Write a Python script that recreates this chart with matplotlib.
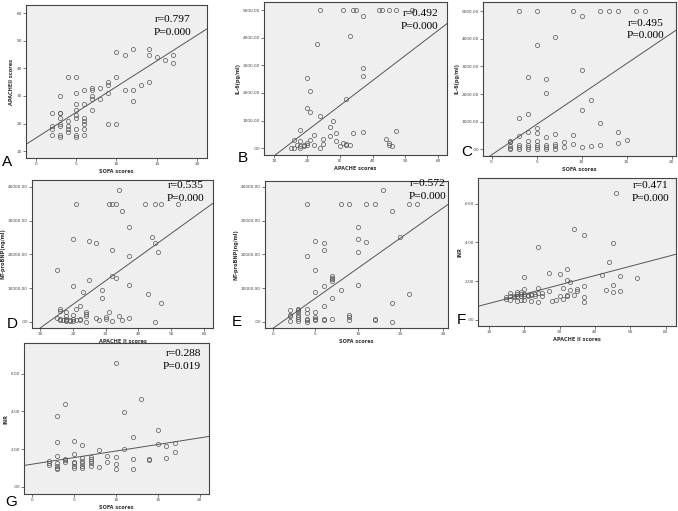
import matplotlib
matplotlib.use('Agg')
import matplotlib.pyplot as plt
from matplotlib.ticker import FuncFormatter

# ---- data ----
# A: SOFA vs APACHE II
a_sofa = [2, 2, 2, 2, 3, 3, 3, 3, 3, 3, 3, 3, 4, 4, 4, 4, 4, 5, 5, 5, 5, 5, 5, 5, 5, 5,
          6, 6, 6, 6, 6, 6, 6, 7, 7, 7, 7, 7, 8, 8, 9, 9, 9, 9, 10, 10, 10, 11, 11,
          12, 12, 12, 13, 14, 14, 14, 15, 16, 17, 17]
a_apache = [24, 19, 18, 16, 30, 24, 24, 22, 20, 19, 16, 15, 37, 21, 19, 18, 17, 37, 31, 27, 25, 23, 22, 18, 16, 15,
            32, 27, 22, 21, 20, 18, 16, 33, 32, 30, 29, 25, 33, 29, 35, 34, 31, 20, 46, 37, 20, 45, 32,
            47, 32, 28, 34, 47, 45, 35, 44, 43, 45, 42]

# B: APACHE vs IL-6
b_apache = [24, 31, 34, 35, 42, 43, 45, 47, 52,
            37, 33, 23, 37, 37, 20, 21, 32, 20, 21, 24, 28, 27, 18, 29, 34, 37, 47, 22, 27,
            25, 21, 16, 18, 29, 20, 31, 44, 45, 45, 46, 32, 32, 33, 30, 15, 16, 17, 18, 18,
            19, 19, 20, 22, 24, 25]
b_il6 = [5000, 5000, 5000, 5000, 5000, 5000, 5000, 5000, 5000,
         4800, 4050, 3770, 2890, 2610, 2550, 2060, 1780, 1445, 1310, 1155, 985, 770, 660, 555, 530, 600, 615, 480, 430,
         325, 300, 300, 240, 240, 190, 190, 325, 190, 120, 72, 157, 108, 96, 60, 12, 12, 96, 60, 12,
         120, 72, 120, 96, 12, 157]

# C: SOFA vs IL-6
c_sofa = [3, 5, 9, 12, 13, 14, 16, 17,
          10, 7, 5, 10, 4, 6, 6, 11, 10, 4, 3, 12,
          2, 2, 2, 2, 2, 3, 3, 3, 3, 4, 4, 4, 4, 4, 5, 5, 5, 5, 5, 5,
          6, 6, 6, 6, 7, 7, 7, 7, 8, 8, 9, 9, 10, 11, 12, 14, 14, 15]
c_il6 = [5000, 5000, 5000, 5000, 5000, 5000, 5000, 5000,
         4820, 4050, 3780, 2880, 2610, 2550, 2050, 1790, 1430, 1295, 1140, 970,
         310, 250, 130, 60, 20, 480, 150, 90, 30, 635, 310, 150, 90, 25, 790, 600, 310, 150, 90, 25,
         440, 150, 90, 25, 560, 190, 125, 25, 250, 100, 525, 210, 90, 125, 160, 625, 225, 325]

# D: APACHE II vs NT-proBNP
d_apache = [34, 21, 31, 32, 33, 42, 45, 47, 52,
            35, 37, 44, 45, 20, 25, 27, 46, 32, 37, 15,
            32, 33, 25, 37, 20, 23, 29, 29, 43, 47,
            15, 16, 16, 16, 16, 17, 18, 18, 18, 18,
            18, 19, 19, 20, 20, 20, 21, 21, 22, 22,
            22, 24, 24, 24, 24, 27, 28, 30, 30, 31,
            32, 34, 35, 37, 45]
d_bnp = [38900, 35000, 35000, 35000, 35000, 35000, 35000, 35000, 34800,
         32900, 28000, 25100, 23500, 24600, 23900, 23300, 20700, 21400, 19500, 15300,
         13600, 13100, 12300, 10800, 10500, 8800, 9500, 7000, 8300, 5500,
         1200, 3800, 3300, 1000, 500, 700, 2800, 1700, 1000, 500,
         200, 600, 300, 2000, 900, 400, 3800, 600, 4800, 1000,
         500, 3000, 2300, 1700, 100, 1100, 700, 1500, 1000, 2800,
         300, 1800, 500, 1200, 0]

# E: SOFA vs NT-proBNP
e_sofa = [13, 4, 8, 9, 11, 12, 16, 17,
          14, 10, 10, 15, 11, 5, 6, 6, 10, 4, 5, 7,
          7, 7, 7, 6, 10, 8, 5, 7, 16, 14,
          6, 2, 2, 2, 2, 3, 3, 3, 3, 3,
          3, 3, 4, 4, 4, 4, 4, 5, 5, 5,
          5, 6, 6, 7, 9, 9, 9, 12, 12, 14]
e_bnp = [38900, 35000, 35000, 35000, 35000, 35000, 34800, 35000,
         32800, 28000, 24500, 25100, 23600, 23900, 23300, 21400, 20700, 19500, 15400, 13600,
         13100, 12600, 12100, 10500, 10800, 9500, 8800, 7000, 8300, 5500,
         4800, 3400, 2000, 1700, 300, 3900, 3400, 2900, 1900, 1400,
         900, 300, 3900, 2700, 900, 500, 100, 2900, 1400, 900,
         500, 1000, 700, 1000, 1900, 1400, 600, 800, 500, 100]

# F: APACHE II vs INR
f_apache = [46, 34, 37, 45, 24, 44, 27, 30, 32, 42,
            47, 52, 20, 32, 33, 45, 37, 24, 20, 35,
            31, 43, 47, 45, 27, 33, 35, 37, 37, 30,
            32, 32, 34, 29, 31, 28, 24, 22, 25, 25,
            24, 23, 23, 22, 22, 21, 21, 20, 20, 20,
            19, 19, 19, 19, 18, 18, 18, 18, 16, 16,
            16, 15, 15, 17, 17]
f_inr = [6.53, 4.67, 4.38, 3.95, 3.75, 2.97, 2.42, 2.35, 2.63, 2.30,
         2.25, 2.15, 2.20, 2.05, 1.94, 1.80, 1.74, 1.65, 1.58, 1.62,
         1.63, 1.53, 1.50, 1.44, 1.50, 1.53, 1.51, 1.20, 0.95, 1.24,
         1.24, 1.27, 1.29, 1.04, 1.08, 0.96, 0.92, 0.97, 1.39, 1.22,
         1.39, 1.36, 1.25, 1.36, 1.27, 1.30, 1.22, 1.34, 1.22, 1.04,
         1.43, 1.34, 1.25, 1.04, 1.43, 1.34, 1.22, 0.99, 1.39, 1.22,
         1.04, 1.17, 1.10, 1.25, 1.17]

# G: SOFA vs INR
g_sofa = [10, 13, 4, 11, 3, 15, 12, 3, 5, 6,
          15, 16, 17, 11, 8, 3, 5, 9, 10, 12,
          14, 14, 16, 17, 7, 7, 7, 7, 7, 6,
          6, 6, 6, 6, 5, 5, 5, 5, 4, 4,
          4, 3, 3, 3, 3, 2, 2, 2, 9, 8,
          10, 10, 12]
g_inr = [6.57, 4.67, 4.41, 3.96, 3.77, 2.99, 2.64, 2.35, 2.42, 2.20,
         2.25, 2.14, 2.32, 2.00, 1.95, 1.65, 1.72, 1.61, 1.58, 1.49,
         1.47, 1.43, 1.52, 1.82, 1.56, 1.45, 1.35, 1.24, 1.12, 1.50,
         1.36, 1.24, 1.12, 1.00, 1.33, 1.24, 1.12, 1.00, 1.49, 1.42,
         1.31, 1.24, 1.12, 1.00, 0.92, 1.36, 1.27, 1.13, 1.29, 1.04,
         1.20, 0.94, 0.94]

# fit lines as drawn in the reference (intercept, slope)
fit_lines = {'A': (14.7, 1.87), 'B': (-1190, 91), 'C': (-200, 220), 'D': (-8800, 700),
             'E': (-1900, 1780), 'F': (0.37, 0.048), 'G': (1.19, 0.07)}
stats = {'A': ('0.797', 'P=0.000'), 'B': ('0.492', 'P=0.000'), 'C': ('0.495', 'P=0.000'),
         'D': ('0.535', 'P=0.000'), 'E': ('0.572', 'P=0.000'), 'F': ('0.471', 'P=0.000'),
         'G': ('0.288', 'P=0.019')}

W, H = 678, 511
fig = plt.figure(figsize=(W / 100, H / 100), dpi=100)
fig.patch.set_facecolor('white')


def spss_fmt(v, pos):
    s = '%.2f' % v
    if s.startswith('0.'):
        s = s[1:]
    if s == '-.00' or s == '0.00':
        s = '.00'
    return s


def panel(key, box, x, y, xlim, ylim, xticks, yticks, xlabel, ylabel, yfmt,
          txt_xy, letter_xy):
    l, t, r, b = box
    ax = fig.add_axes([l / W, 1 - b / H, (r - l) / W, (b - t) / H])
    ax.set_facecolor('#efefef')
    ax.plot(x, y, 'o', ms=3, mfc='none', mec='#555555', mew=0.5, zorder=3)
    c0, c1 = fit_lines[key]
    ax.plot(xlim, [c0 + c1 * xlim[0], c0 + c1 * xlim[1]], color='#555555', lw=0.7, zorder=2)
    ax.set_xlim(xlim)
    ax.set_ylim(ylim)
    ax.set_xticks(xticks)
    ax.set_yticks(yticks)
    if yfmt:
        ax.yaxis.set_major_formatter(FuncFormatter(spss_fmt))
    ax.tick_params(direction='out', length=2, width=0.5, labelsize=3.1, pad=1,
                   colors='#444444')
    for sp in ax.spines.values():
        sp.set_color('#444444')
        sp.set_linewidth(0.8)
    ax.set_xlabel(xlabel, fontsize=3.6, fontweight='bold', labelpad=2, color='#333333')
    ax.set_ylabel(ylabel, fontsize=3.6, fontweight='bold', labelpad=1.5, color='#333333')
    rx, ry = txt_xy
    fig.text(rx / W, 1 - ry / H, 'r=' + stats[key][0], ha='right', va='center',
             fontsize=8.2, family='Liberation Serif')
    fig.text(rx / W, 1 - (ry + 12.5) / H, stats[key][1], ha='right', va='center',
             fontsize=8.2, family='Liberation Serif')
    fig.text(letter_xy[0] / W, 1 - letter_xy[1] / H, key, ha='center', va='center',
             fontsize=11, family='Liberation Sans')
    return ax


panel('A', (26, 5, 207, 158), a_sofa, a_apache, (-1.2, 21.2), (7.5, 63),
      [0, 5, 10, 15, 20], [10, 20, 30, 40, 50, 60], 'SOFA scores', 'APACHEII scores', False,
      (191, 20), (7, 162))
panel('B', (264, 2, 447, 155), b_apache, b_il6, (6.9, 62.7), (-250, 5300),
      [10, 20, 30, 40, 50, 60], [0, 1000, 2000, 3000, 4000, 5000], 'APACHE scores', 'IL-6(pg/ml)', True,
      (438, 14), (243, 158))
panel('C', (483, 2, 676, 156), c_sofa, c_il6, (-0.95, 20.5), (-240, 5330),
      [0, 5, 10, 15, 20], [0, 1000, 2000, 3000, 4000, 5000], 'SOFA scores', 'IL-6(pg/ml)', True,
      (664, 23), (467, 152))
panel('D', (32, 180, 213, 328), d_apache, d_bnp, (7.5, 62.75), (-1800, 42000),
      [10, 20, 30, 40, 50, 60], [0, 10000, 20000, 30000, 40000], 'APACHE II scores', 'NT-proBNP(ng/ml)', True,
      (204, 186), (12, 324))
panel('E', (265, 181, 448, 328), e_sofa, e_bnp, (-0.93, 20.6), (-1800, 41700),
      [0, 5, 10, 15, 20], [0, 10000, 20000, 30000, 40000], 'SOFA scores', 'NT-proBNP(ng/ml)', True,
      (446, 184), (237, 322))
panel('F', (478, 178, 676, 326), f_apache, f_inr, (6.97, 62.9), (-0.31, 7.32),
      [10, 20, 30, 40, 50, 60], [0, 2, 4, 6], 'APACHE II scores', 'INR', True,
      (669, 186), (461, 320))
panel('G', (24, 343, 209, 494), g_sofa, g_inr, (-0.92, 21.1), (-0.39, 7.63),
      [0, 5, 10, 15, 20], [0, 2, 4, 6], 'SOFA scores', 'INR', True,
      (201, 354), (11, 502))

fig.savefig('out.png', dpi=100)
